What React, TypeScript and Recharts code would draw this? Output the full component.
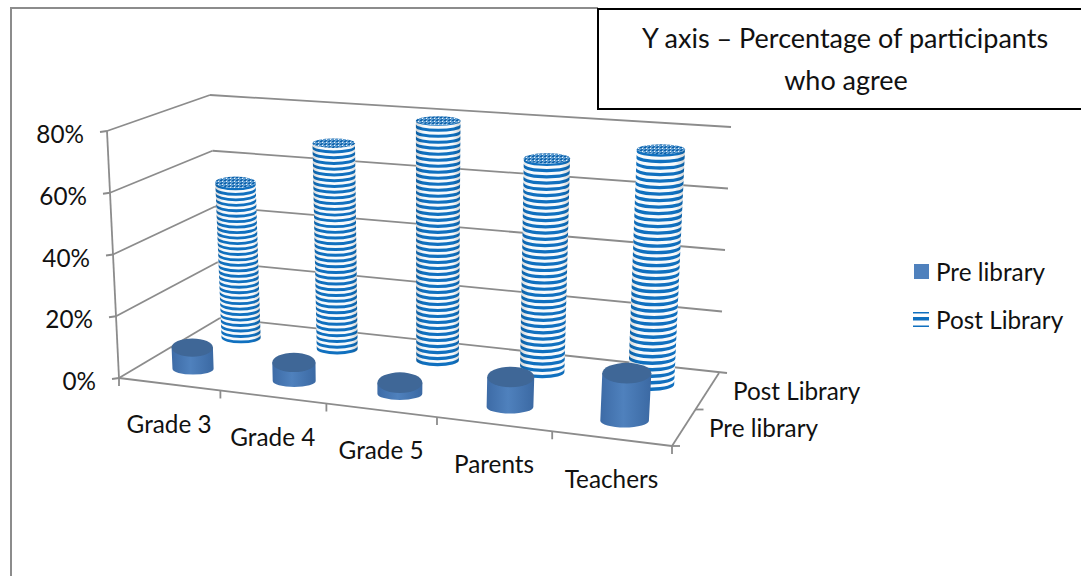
import React from 'react'
import { BarChart, Bar, CartesianGrid, XAxis, YAxis, Legend, Customized } from 'recharts'

const categories = ['Grade 3', 'Grade 4', 'Grade 5', 'Parents', 'Teachers']
const preLibrary = [0.07, 0.06, 0.035, 0.093, 0.145]
const postLibrary = [0.54, 0.7, 0.8, 0.7, 0.755]
const yTicks = [0, 0.2, 0.4, 0.6, 0.8]
const seriesNames = ['Pre library', 'Post Library']
const titleLines = ['Y axis – Percentage of participants', 'who agree']

const data = categories.map((name, i) => ({ name, pre: preLibrary[i], post: postLibrary[i] }))

const W = 1081
const H = 577
const FONT = 'Lato, "Open Sans", sans-serif'
const GRID = '#8c8c8c'
const BLUE = '#1070bf'
const LABEL = 24.3

// flat plot area the library lays out, everything is then mapped onto the 3d box
const PLOT = { left: 119, top: 131, width: 553, height: 247 }
const MAX = 0.8
const DEPTH_PRE = 0.25
const DEPTH_POST = 0.75

type Pt = [number, number]
const FBL: Pt = [119, 378]
const FBR: Pt = [672, 446]
const BBL: Pt = [220, 318]
const BBR: Pt = [719, 373]
const FTL: Pt = [107, 131]
const FTR: Pt = [688, 175]
const BTL: Pt = [210, 95]
const BTR: Pt = [731, 127]

const mix = (a: Pt, b: Pt, t: number): Pt => [a[0] + (b[0] - a[0]) * t, a[1] + (b[1] - a[1]) * t]

// u across categories, h up the value axis, d into the page, all 0..1
function project(u: number, h: number, d: number): Pt {
  const w = u - 0.104 * u * (1 - u)
  const bottom = mix(mix(FBL, FBR, w), mix(BBL, BBR, w), d)
  const top = mix(mix(FTL, FTR, w), mix(BTL, BTR, w), d)
  return mix(bottom, top, h)
}

const toU = (x: number) => (x - PLOT.left) / PLOT.width
const toH = (y: number) => (PLOT.top + PLOT.height - y) / PLOT.height

const seg = (a: Pt, b: Pt, key: string, w = 1.8) => (
  <line key={key} x1={a[0]} y1={a[1]} x2={b[0]} y2={b[1]} stroke={GRID} strokeWidth={w} />
)

// grid rows bent round the left wall and the back wall
function WallLine({ y1 }: any) {
  const h = toH(y1)
  const a = project(0, h, 0)
  const b = project(0, h, 1)
  const c = project(1, h, 1)
  const end: Pt = h < 0.001 ? [BBR[0] + 8, BBR[1]] : c
  return (
    <g>
      {seg(a, b, 'side')}
      {seg(b, end, 'back')}
    </g>
  )
}

function ValueTick({ y, payload }: any) {
  const a = project(0, toH(y), 0)
  return (
    <g>
      {seg([a[0] - 7, a[1] + 1], a, 'tick')}
      <text x={a[0] - 23} y={a[1] + 6} textAnchor="end" dominantBaseline="middle" fontSize={LABEL} fontFamily={FONT} fill="#111">
        {Math.round(payload.value * 100)}%
      </text>
    </g>
  )
}

function CategoryTick({ x, payload }: any) {
  const p = project(toU(x), 0, 0)
  return (
    <text x={p[0]} y={p[1] + 43} textAnchor="middle" dominantBaseline="middle" fontSize={LABEL} fontFamily={FONT} fill="#111">
      {payload.value}
    </text>
  )
}

// axis lines of the box and the depth labels
function BoxFrame() {
  const marks = [0, 0.2, 0.4, 0.6, 0.8, 1]
  const midDepth = mix(FBR, BBR, 0.5)
  return (
    <g>
      {seg(project(0, 0, 0), project(0, 1, 0), 'vert')}
      {seg(project(0, 0, 0), project(1, 0, 0), 'front')}
      {seg(project(1, 0, 0), project(1, 0, 1), 'right')}
      {seg(midDepth, [midDepth[0] + 8, midDepth[1]], 'midDepth')}
      {seg(FBR, [FBR[0] + 8, FBR[1]], 'frontDepth')}
      {marks.map((m) => {
        const p = project(m, 0, 0)
        return seg(p, [p[0], p[1] + 8], `m${m}`)
      })}
      <text x={709} y={431} dominantBaseline="middle" fontSize={LABEL} fontFamily={FONT} fill="#111">{seriesNames[0]}</text>
      <text x={733} y={394} dominantBaseline="middle" fontSize={LABEL} fontFamily={FONT} fill="#111">{seriesNames[1]}</text>
    </g>
  )
}

function Cylinder({ x, y, width, depth, striped }: any) {
  const h = toH(y)
  const uL = toU(x)
  const uR = toU(x + width)
  const baseL = project(uL, 0, depth)
  const baseR = project(uR, 0, depth)
  const topL = project(uL, h, depth)
  const topR = project(uR, h, depth)
  // level the ends so the discs sit flat
  const baseY = (baseL[1] + baseR[1]) / 2
  const topY = (topL[1] + topR[1]) / 2
  const bl: Pt = [baseL[0], baseY]
  const br: Pt = [baseR[0], baseY]
  const tl: Pt = [topL[0], topY]
  const tr: Pt = [topR[0], topY]
  const botRx = (br[0] - bl[0]) / 2
  const topRx = (tr[0] - tl[0]) / 2
  const botRy = botRx * 0.28
  const topRy = topRx * (0.47 - 0.28 * h)
  const body = `M${tl[0]},${tl[1]} L${bl[0]},${bl[1]} A${botRx},${botRy} 0 0 0 ${br[0]},${br[1]} L${tr[0]},${tr[1]} Z`
  const cap = (
    <ellipse cx={(tl[0] + tr[0]) / 2} cy={topY} rx={topRx} ry={topRy} fill={striped ? 'url(#capNoise)' : '#3f6797'} />
  )
  if (!striped) {
    return (
      <g>
        <path d={body} fill="url(#preSide)" />
        {cap}
      </g>
    )
  }
  const len = baseY - topY
  const period = botRx * 0.28
  const count = Math.floor(len / period)
  const stripes = []
  for (let i = 0; i <= count; i++) {
    const t0 = (i * period + 0.4) / len
    const t1 = Math.min(1, (i * period + 0.4 + period * 0.52) / len)
    if (t0 >= 1) break
    const l0 = mix(bl, tl, t0)
    const r0 = mix(br, tr, t0)
    const l1 = mix(bl, tl, t1)
    const r1 = mix(br, tr, t1)
    const rx = (r0[0] - l0[0]) / 2
    const ry = botRy + (topRy - botRy) * t0
    stripes.push(
      <path key={i} fill={BLUE}
        d={`M${l0[0]},${l0[1]} A${rx},${ry} 0 0 0 ${r0[0]},${r0[1]} L${r1[0]},${r1[1]} A${rx},${ry} 0 0 1 ${l1[0]},${l1[1]} Z`} />
    )
  }
  return (
    <g>
      <path d={body} fill="#f7fafc" />
      {stripes}
      <path d={body} fill="url(#postShade)" />
      {cap}
    </g>
  )
}

const PreShape = (props: any) => <Cylinder {...props} depth={DEPTH_PRE} />
const PostShape = (props: any) => <Cylinder {...props} depth={DEPTH_POST} striped />

function LegendBox() {
  return (
    <svg width={170} height={95} style={{ display: 'block' }}>
      <rect x={1} y={14} width={15} height={15} fill="#4f81bd" />
      <text x={23} y={25} dominantBaseline="middle" fontSize={LABEL} fontFamily={FONT} fill="#111">{seriesNames[0]}</text>
      <rect x={0} y={62} width={16} height={1.5} fill={BLUE} />
      <rect x={0} y={67} width={16} height={3.5} fill={BLUE} />
      <rect x={0} y={75.5} width={16} height={1.5} fill={BLUE} />
      <text x={23} y={73} dominantBaseline="middle" fontSize={LABEL} fontFamily={FONT} fill="#111">{seriesNames[1]}</text>
    </svg>
  )
}

function Frame() {
  return (
    <g>
      <line x1={11} y1={8} x2={11} y2={H - 1} stroke={GRID} strokeWidth={2} />
      <line x1={10} y1={8} x2={598} y2={8} stroke={GRID} strokeWidth={2} />
    </g>
  )
}

function TitleBox() {
  return (
    <g>
      <rect x={598} y={9} width={W - 597} height={100} fill="#fff" stroke="#000" strokeWidth={2} />
      <text x={845} y={41} textAnchor="middle" dominantBaseline="middle" fontSize={27} fontFamily={FONT} fill="#111">{titleLines[0]}</text>
      <text x={846} y={83} textAnchor="middle" dominantBaseline="middle" fontSize={27} fontFamily={FONT} fill="#111">{titleLines[1]}</text>
    </g>
  )
}

export default function App() {
  return (
    <div style={{ position: 'absolute', left: 0, top: 0, width: W, height: H, background: '#fff' }}>
      <BarChart
        width={W}
        height={H}
        data={data}
        barCategoryGap="29%"
        margin={{ left: PLOT.left - 1, top: PLOT.top, right: W - PLOT.left - PLOT.width, bottom: H - PLOT.top - PLOT.height - 1 }}
      >
        <defs>
          <linearGradient id="preSide" x1="0" y1="0" x2="1" y2="0">
            <stop offset="0%" stopColor="#3d6ba6" />
            <stop offset="45%" stopColor="#4f81bd" />
            <stop offset="100%" stopColor="#3b69a3" />
          </linearGradient>
          <linearGradient id="postShade" x1="0" y1="0" x2="1" y2="0">
            <stop offset="0%" stopColor="#000" stopOpacity={0.16} />
            <stop offset="18%" stopColor="#000" stopOpacity={0} />
            <stop offset="82%" stopColor="#000" stopOpacity={0} />
            <stop offset="100%" stopColor="#000" stopOpacity={0.16} />
          </linearGradient>
          <pattern id="capNoise" width="4" height="3" patternUnits="userSpaceOnUse">
            <rect width="4" height="3" fill="#5c9bd0" />
            <rect x="0" y="0" width="2" height="1" fill="#0b5fa8" />
            <rect x="2" y="1" width="1" height="1" fill="#e8f1f8" />
            <rect x="1" y="2" width="2" height="1" fill="#1f70b5" />
          </pattern>
        </defs>
        <Customized component={Frame} />
        <CartesianGrid xAxisId="pre" vertical={false} horizontal={(props: any) => <WallLine key={props.key} {...props} />} />
        <XAxis dataKey="name" xAxisId="post" hide height={1} />
        <XAxis dataKey="name" xAxisId="pre" height={1} axisLine={false} tickLine={false} interval={0} tick={<CategoryTick />} />
        <YAxis width={1} domain={[0, MAX]} ticks={yTicks} axisLine={false} tickLine={false} tick={<ValueTick />} />
        <Customized component={BoxFrame} />
        <Customized component={TitleBox} />
        <Legend
          layout="horizontal"
          align="center"
          verticalAlign="middle"
          content={<LegendBox />}
          wrapperStyle={{ left: 913, top: 250, width: 170, height: 95 }}
        />
        <Bar dataKey="post" xAxisId="post" name={seriesNames[1]} isAnimationActive={false} shape={<PostShape />} />
        <Bar dataKey="pre" xAxisId="pre" name={seriesNames[0]} isAnimationActive={false} shape={<PreShape />} />
      </BarChart>
    </div>
  )
}
